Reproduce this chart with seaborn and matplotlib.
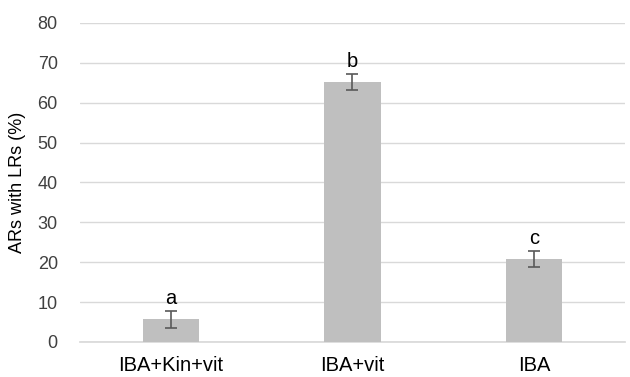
import matplotlib
matplotlib.use("Agg")
import matplotlib.pyplot as plt
import seaborn as sns
import pandas as pd

categories = ["IBA+Kin+vit", "IBA+vit", "IBA"]
values = [5.7, 65.3, 20.9]
errors = [2.1, 2.0, 2.0]
letters = ["a", "b", "c"]

sns.set_theme(style="white")
plt.rcParams['font.family'] = ['Liberation Sans', 'DejaVu Sans']

df = pd.DataFrame({"cat": categories, "val": values})
fig = plt.figure(figsize=(6.3, 3.77), dpi=100)
ax = fig.add_axes([0.127, 0.093, 0.865, 0.846])
sns.barplot(data=df, x="cat", y="val", color="#bfbfbf", width=0.31, ax=ax,
            saturation=1, errorbar=None, zorder=3, linewidth=0)
ax.errorbar(range(len(categories)), values, yerr=errors, fmt="none",
            ecolor="#595959", elinewidth=1.2, capsize=4, capthick=1.2, zorder=4)
for i, (v, e, l) in enumerate(zip(values, errors, letters)):
    ax.text(i, v + e + 0.6, l, ha="center", va="bottom", fontsize=14.5, color="#000000")

ax.set_ylim(0, 80)
ax.set_yticks(range(0, 81, 10))
ax.yaxis.grid(True, color="#d9d9d9", linewidth=1, zorder=0)
ax.set_axisbelow(True)
for s in ["top", "right", "left"]:
    ax.spines[s].set_visible(False)
ax.spines["bottom"].set_color("#d9d9d9")
ax.set_xlim(-0.5, 2.5)
ax.set_xlabel("")
ax.set_ylabel("ARs with LRs (%)", fontsize=13, color="#000000", labelpad=8)
ax.tick_params(axis="y", labelsize=13, colors="#404040", length=0, pad=16)
ax.tick_params(axis="x", labelsize=14.5, colors="#000000", length=0, pad=10)
fig.savefig("out.png", dpi=100)
